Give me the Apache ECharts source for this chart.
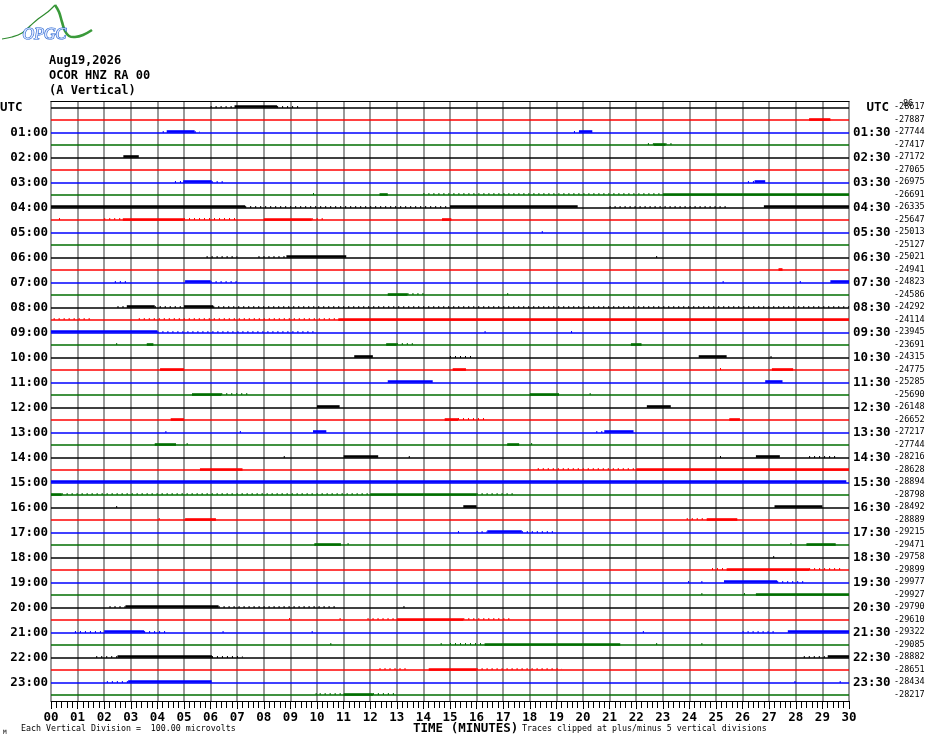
<!DOCTYPE html>
<html><head><meta charset="utf-8">
<script src="https://cdn.jsdelivr.net/npm/echarts@6/dist/echarts.min.js"></script>
<style>html,body{margin:0;padding:0;background:#fff}#c{width:930px;height:744px}</style>
</head><body><div id="c"></div>
<script>
const titleLines = ['Aug19,2026', 'OCOR HNZ RA 00', '(A Vertical)'];
const traceColors = ['#000000', '#ff0000', '#0000ff', '#006e00'];
const leftHourLabels = ['UTC','01:00','02:00','03:00','04:00','05:00','06:00','07:00','08:00','09:00','10:00','11:00',
  '12:00','13:00','14:00','15:00','16:00','17:00','18:00','19:00','20:00','21:00','22:00','23:00'];
const rightHourLabels = ['UTC','01:30','02:30','03:30','04:30','05:30','06:30','07:30','08:30','09:30','10:30','11:30',
  '12:30','13:30','14:30','15:30','16:30','17:30','18:30','19:30','20:30','21:30','22:30','23:30'];
const rightValues = ['-28617','-27887','-27744','-27417','-27172','-27065','-26975','-26691','-26335','-25647',
  '-25013','-25127','-25021','-24941','-24823','-24586','-24292','-24114','-23945','-23691',
  '-24315','-24775','-25285','-25690','-26148','-26652','-27217','-27744','-28216','-28628',
  '-28894','-28798','-28492','-28889','-29215','-29471','-29758','-29899','-29977','-29927',
  '-29790','-29610','-29322','-29085','-28882','-28651','-28434','-28217'];
const minuteLabels = ['00','01','02','03','04','05','06','07','08','09','10','11','12','13','14','15',
  '16','17','18','19','20','21','22','23','24','25','26','27','28','29','30'];
const footerLeft = 'Each Vertical Division =  100.00 microvolts';
const footerCenter = 'TIME (MINUTES)';
const footerRight = 'Traces clipped at plus/minus 5 vertical divisions';
// bursts of activity: [trace, startMinute, endMinute, kind] ; kind 1 = dense, 0 = sparse
const bursts = [
  [0,6.0,6.9,0],[0,6.9,8.5,1],[0,8.5,9.3,0],
  [1,28.5,29.3,1],
  [2,4.2,4.35,0],[2,4.35,5.4,1],[2,5.4,5.6,0],[2,19.66,19.85,0],[2,19.85,20.35,1],
  [3,22.44,22.66,0],[3,22.66,23.1,1],[3,23.1,23.4,0],
  [4,2.72,3.3,1],
  [6,4.66,4.97,0],[6,4.97,6.04,1],[6,6.04,6.5,0],[6,26.2,26.45,0],[6,26.45,26.85,1],
  [7,9.85,9.95,0],[7,12.35,12.66,1],[7,14.0,23.0,0],[7,23.0,30,1],
  [8,0,7.3,1],[8,7.3,15,0],[8,15,19.8,1],[8,21,25.4,0],[8,26.8,30,1],
  [9,0.3,0.4,0],[9,2.0,2.7,0],[9,2.7,5.0,1],[9,5.0,7.0,0],[9,8.0,9.8,1],[9,9.8,10.35,0],[9,14.7,15.05,1],
  [10,18.45,18.55,0],
  [12,5.85,7.0,0],[12,7.8,8.85,0],[12,8.85,11.1,1],[12,22.75,22.85,0],
  [13,27.35,27.5,1],
  [14,2.4,2.9,0],[14,5.04,6.0,1],[14,6.0,7.0,0],[14,25.25,25.35,0],[14,28.15,28.25,0],[14,29.3,30,1],
  [15,12.66,13.4,1],[15,13.4,14.1,0],[15,17.15,17.25,0],
  [16,2.5,2.85,0],[16,2.85,3.9,1],[16,3.9,5.0,0],[16,5.0,6.1,1],[16,6.1,30,0],
  [17,0.1,1.5,0],[17,3.3,10.8,0],[17,10.8,30,1],
  [18,0,4.0,1],[18,4.0,10.0,0],[18,16.3,16.4,0],[18,19.55,19.65,0],
  [19,2.45,2.55,0],[19,3.6,3.85,1],[19,12.6,13.0,1],[19,13.0,13.6,0],[19,21.8,22.2,1],
  [20,11.4,12.1,1],[20,15.0,15.8,0],[20,24.35,25.4,1],[20,27.05,27.15,0],
  [21,4.1,5.0,1],[21,15.1,15.6,1],[21,25.15,25.25,0],[21,27.1,27.9,1],
  [22,12.66,14.35,1],[22,26.85,27.5,1],
  [23,5.3,6.4,1],[23,6.4,7.4,0],[23,18.0,19.1,1],[23,20.25,20.35,0],
  [24,10.0,10.85,1],[24,22.4,23.3,1],
  [25,4.5,5.0,1],[25,14.8,15.3,1],[25,15.3,16.4,0],[25,25.5,25.9,1],
  [26,4.3,4.4,0],[26,7.1,7.2,0],[26,9.85,10.35,1],[26,20.5,20.8,0],[26,20.8,21.9,1],
  [27,3.9,4.7,1],[27,5.1,5.2,0],[27,17.15,17.6,1],[27,18.05,18.15,0],
  [28,8.75,8.85,0],[28,11.0,12.3,1],[28,13.45,13.55,0],[28,25.15,25.25,0],[28,26.5,27.4,1],[28,28.5,29.5,0],
  [29,5.6,7.2,1],[29,18.3,22.0,0],[29,22.0,30,1],
  [30,0,29.9,1],
  [31,0,0.4,1],[31,0.4,12,0],[31,12,16,1],[31,16,17.4,0],
  [32,2.45,2.55,0],[32,15.5,16.0,1],[32,27.2,29.0,1],
  [33,4.05,4.15,0],[33,5.04,6.2,1],[33,23.9,24.65,0],[33,24.65,25.8,1],
  [34,15.3,15.4,0],[34,16.0,16.4,0],[34,16.4,17.7,1],[34,17.7,19.0,0],
  [35,9.9,10.9,1],[35,11.15,11.25,0],[35,27.8,27.9,0],[35,28.4,29.5,1],
  [36,27.15,27.25,0],
  [37,24.85,25.4,0],[37,25.4,28.5,1],[37,28.5,29.7,0],
  [38,23.95,24.05,0],[38,24.45,24.55,0],[38,25.3,27.3,1],[38,27.3,28.35,0],
  [39,24.45,24.55,0],[39,26.05,26.15,0],[39,26.5,30,1],
  [40,2.2,2.8,0],[40,2.8,6.3,1],[40,6.3,10.8,0],[40,13.25,13.35,0],
  [41,8.95,9.05,0],[41,10.85,10.95,0],[41,11.9,13.0,0],[41,13.0,15.5,1],[41,15.5,17.3,0],
  [42,0.9,2.0,0],[42,2.0,3.5,1],[42,3.5,4.35,0],[42,6.45,6.55,0],[42,9.8,9.9,0],[42,22.25,22.35,0],[42,26.0,27.3,0],[42,27.7,30,1],
  [43,10.5,10.6,0],[43,14.65,14.75,0],[43,15.0,16.3,0],[43,16.3,21.4,1],[43,22.75,22.85,0],[43,24.45,24.55,0],
  [44,1.7,2.5,0],[44,2.5,6.05,1],[44,6.05,7.2,0],[44,28.3,29.2,0],[44,29.2,30,1],
  [45,12.35,13.4,0],[45,14.2,16.0,1],[45,16.0,19.2,0],
  [46,2.1,2.9,0],[46,2.9,6.04,1],[46,27.95,28.05,0],[46,29.65,29.75,0],
  [47,9.95,10.05,0],[47,10.1,11.0,0],[47,11.0,12.1,1],[47,12.1,13.0,0]
];

const nTraces = rightValues.length;
const traceIdx = rightValues.map((_, i) => i);
const MONO = "'DejaVu Sans Mono', 'Liberation Mono', monospace";

const baseData = traceIdx.map(i => ({
  coords: [[0, i], [30, i]],
  lineStyle: { color: traceColors[i % 4], width: 1.5, opacity: 1 }
}));
const burstData = bursts.map(b => ({
  coords: [[b[1], b[0] - 0.06], [b[2], b[0] - 0.06]],
  lineStyle: b[3] === 1
    ? { color: traceColors[b[0] % 4], width: 2.6, opacity: 1, type: 'solid' }
    : { color: traceColors[b[0] % 4], width: 2.2, opacity: 1, type: [1, 4] }
}));

const chart = echarts.init(document.getElementById('c'), null, { renderer: 'canvas' });

const graphics = [];
titleLines.forEach((t, k) => graphics.push({
  type: 'text', left: 49, top: 55 + k * 15,
  style: { text: t, font: 'bold 12px ' + MONO, fill: '#000' }
}));
graphics.push({ type: 'text', left: 413, top: 722, style: { text: footerCenter, font: 'bold 12.5px ' + MONO, fill: '#000' } });
graphics.push({ type: 'text', left: 21, top: 725, style: { text: footerLeft, font: '8.3px ' + MONO, fill: '#000' } });
graphics.push({ type: 'text', left: 522, top: 725, style: { text: footerRight, font: '8.3px ' + MONO, fill: '#000' } });
graphics.push({ type: 'text', left: 3, top: 729, style: { text: 'M', font: '6px ' + MONO, fill: '#000' } });
graphics.push({ type: 'text', left: 903, top: 99, style: { text: '86', font: '8.5px ' + MONO, fill: '#000' } });
// logo
graphics.push({
  type: 'polyline', silent: true,
  shape: { points: [[2,39],[12,37],[22,33],[30,26],[38,19],[45,14],[50,10],[55,5]], smooth: 0.4 },
  style: { stroke: '#2e8b2e', lineWidth: 1.2, fill: null }
});
graphics.push({
  type: 'polyline', silent: true,
  shape: { points: [[55,5],[59,12],[62,22],[65,31],[69,36],[75,37],[83,35],[92,30]], smooth: 0.4 },
  style: { stroke: '#3a9a3a', lineWidth: 2.6, fill: null }
});
graphics.push({
  type: 'text', left: 22, top: 26,
  style: { text: 'OPGC', font: 'italic 16px "Liberation Serif", serif', fill: '#dfe8ff', stroke: '#2060d0', lineWidth: 1.2 }
});

chart.setOption({
  animation: false,
  backgroundColor: '#ffffff',
  grid: { left: 51, right: 81, top: 101, bottom: 43, containLabel: false, outerBoundsMode: 'none' },
  xAxis: [{
    type: 'value', min: 0, max: 30, interval: 1, position: 'bottom',
    axisLine: { show: true, onZero: false, lineStyle: { color: '#000', width: 1.2 } },
    axisTick: { show: true, length: 8, lineStyle: { color: '#000', width: 1 } },
    minorTick: { show: true, splitNumber: 5, length: 7, lineStyle: { color: '#000', width: 1 } },
    splitLine: { show: true, lineStyle: { color: '#808080', width: 1.6 } },
    axisLabel: {
      show: true, margin: 10, showMinLabel: true, showMaxLabel: true,
      formatter: v => minuteLabels[Math.round(v)] || '',
      color: '#000', fontFamily: MONO, fontWeight: 'bold', fontSize: 12.5
    }
  }, {
    type: 'value', min: 0, max: 30, position: 'top',
    axisLine: { show: true, onZero: false, lineStyle: { color: '#000', width: 1 } },
    axisTick: { show: false }, axisLabel: { show: false }, splitLine: { show: false }
  }],
  yAxis: [{
    type: 'value', min: -0.5, max: nTraces - 0.5, inverse: true, show: false
  }, {
    type: 'category', data: traceIdx, inverse: true, position: 'left', boundaryGap: true,
    axisLine: { show: false }, axisTick: { show: false }, splitLine: { show: false },
    axisLabel: {
      interval: 0, margin: 3,
      formatter: (v, i) => i === 0 ? '{u|' + leftHourLabels[0] + '}' : (i % 2 === 0 ? leftHourLabels[i / 2] : ''),
      color: '#000', fontFamily: MONO, fontWeight: 'bold', fontSize: 12.5,
      rich: { u: { width: 48, align: 'left', fontFamily: MONO, fontWeight: 'bold', fontSize: 12.5, color: '#000' } }
    }
  }, {
    type: 'category', data: traceIdx, inverse: true, position: 'right', boundaryGap: true,
    axisLine: { show: false }, axisTick: { show: false }, splitLine: { show: false },
    axisLabel: {
      interval: 0, margin: 4,
      formatter: (v, i) => i === 0 ? '{r|' + rightHourLabels[0] + '}' : (i % 2 === 0 ? rightHourLabels[i / 2] : ''),
      color: '#000', fontFamily: MONO, fontWeight: 'bold', fontSize: 12.5,
      rich: { r: { width: 36, align: 'right', fontFamily: MONO, fontWeight: 'bold', fontSize: 12.5, color: '#000' } }
    }
  }, {
    type: 'category', data: traceIdx, inverse: true, position: 'right', offset: 0, boundaryGap: true,
    axisLine: { show: false }, axisTick: { show: false }, splitLine: { show: false },
    axisLabel: {
      interval: 0, margin: 45,
      formatter: (v, i) => rightValues[i],
      color: '#000', fontFamily: MONO, fontSize: 8.5
    }
  }],
  series: [{
    type: 'lines', coordinateSystem: 'cartesian2d', xAxisIndex: 0, yAxisIndex: 0,
    silent: true, polyline: false, lineStyle: { opacity: 1 }, data: baseData, z: 3
  }, {
    type: 'lines', coordinateSystem: 'cartesian2d', xAxisIndex: 0, yAxisIndex: 0,
    silent: true, polyline: false, lineStyle: { opacity: 1 }, data: burstData, z: 4
  }],
  graphic: graphics
});
</script></body></html>
